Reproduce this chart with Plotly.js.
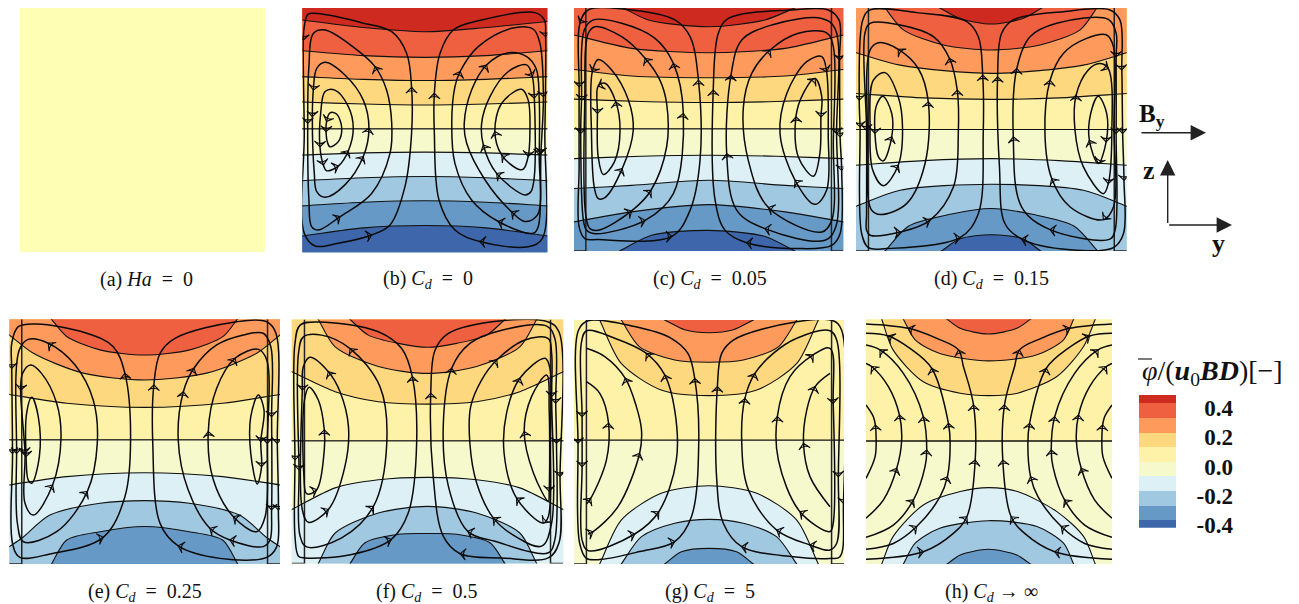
<!DOCTYPE html>
<html><head><meta charset="utf-8">
<script src="https://cdn.plot.ly/plotly-3.0.1.min.js"></script>
<style>html,body{margin:0;padding:0;background:#fff}#c{width:1299px;height:604px}</style>
</head><body><div id="c"></div>
<script>
// Potential bands, top (high) to bottom (low)
const bandColors = ['#cf2a20','#ee6040','#fd9a5c','#fed87f','#fef2a8','#f5f9cc','#dcf0f6','#a0c8e0','#6699c6','#3e66aa'];
const uniformColor = '#feffb5';
const legendEdges = [-0.417,-0.364,-0.267,-0.166,-0.064,0.034,0.133,0.232,0.335,0.433,0.49];
const legendTicks = [0.4,0.2,0,-0.2,-0.4];
const legendTickText = ['0.4','0.2','0.0','-0.2','-0.4'];
const E='&nbsp;=&nbsp;';
const captions = ['(a)&nbsp;<i>Ha</i>&nbsp;'+E+'&nbsp;0','(b)&nbsp;<i>C</i><sub><i>d</i></sub>&nbsp;'+E+'&nbsp;0','(c)&nbsp;<i>C</i><sub><i>d</i></sub>&nbsp;'+E+'&nbsp;0.05','(d)&nbsp;<i>C</i><sub><i>d</i></sub>&nbsp;'+E+'&nbsp;0.15','(e)&nbsp;<i>C</i><sub><i>d</i></sub>&nbsp;'+E+'&nbsp;0.25','(f)&nbsp;<i>C</i><sub><i>d</i></sub>&nbsp;'+E+'&nbsp;0.5','(g)&nbsp;<i>C</i><sub><i>d</i></sub>&nbsp;'+E+'&nbsp;5','(h)&nbsp;<i>C</i><sub><i>d</i></sub>&nbsp;→&nbsp;∞'];
const uniformField = [[0,0],[0,0]];

// Iso-potential lines, [y %, z % from top], keyed by level (1 top .. 9 bottom)
const levelsB = {
1:[[0,4.9],[25,8],[50,9.7],[75,8],[100,5.5]],
2:[[0,17.5],[25,19.5],[50,20.2],[75,19.5],[100,17.5]],
3:[[0,28.1],[25,29.2],[50,29.7],[75,29.2],[100,28.1]],
4:[[0,38.5],[25,39.3],[50,39.7],[75,39.3],[100,38.5]],
5:[[0,49.4],[50,49.4],[100,49.4]],
6:[[0,60.2],[25,59.3],[50,59],[75,59.3],[100,60.2]],
7:[[0,70.7],[25,69.5],[50,69],[75,69.5],[100,70.7]],
8:[[0,81],[25,79.5],[50,78.9],[75,79.5],[100,81]],
9:[[0,93.3],[25,90],[50,89],[75,90],[100,93.3]]};
const levelsC = {
1:[[18.3,0],[27.6,4.9],[50,7.7],[70.9,4.9],[82,0]],
2:[[0,11.1],[21.4,16.6],[50,18.4],[78.4,16.6],[100,11.1]],
3:[[0,25.3],[21.4,28],[50,28.7],[78.4,28],[100,25.3]],
4:[[0,37.5],[25,38.5],[50,38.9],[75,38.5],[100,37.5]],
5:[[0,49.7],[50,49.7],[100,49.7]],
6:[[0,62],[25,61],[50,60.6],[75,61],[100,62]],
7:[[0,74.3],[21.4,73],[50,70.9],[78.4,73],[100,74.3]],
8:[[0,88],[21.4,83.9],[50,80.9],[78.4,83.9],[100,88]],
9:[[17,100],[28.8,93.5],[50,91.5],[70.9,94],[82,100]]};
const levelsD = {
1:[[31,0],[38.4,4.3],[50,6.6],[61.6,4.3],[68.6,0]],
2:[[10.7,0],[17.5,9],[32.3,15.2],[50,17.3],[68,15.2],[82.8,9],[89,0]],
3:[[0,18.4],[16.3,23.5],[50,26.9],[84,23.5],[100,18.4]],
4:[[0,35.2],[25,37],[50,37.6],[75,37],[100,35.2]],
5:[[0,50],[50,50],[100,50]],
6:[[0,64.7],[25,62.8],[50,62],[75,62.8],[100,64.7]],
7:[[0,81.6],[16.3,75],[50,72.5],[84,75],[100,81.6]],
8:[[10.7,100],[19.5,89.7],[34.8,84.9],[50,82.5],[65.2,84.9],[80.5,89.7],[89.3,100]],
9:[[31.6,100],[38.4,95],[50,93.3],[61.6,95],[68.2,100]]};
const levelsE = {
2:[[15.6,0],[21.2,7],[33.5,12.5],[50,14.6],[66.7,12.5],[79,7],[84.2,0]],
3:[[0,6.4],[8.9,13.9],[27.3,22],[50,24.8],[72.9,22],[91.4,13.9],[100,6.4]],
4:[[0,30.7],[21.2,34.3],[50,36],[78.8,34.3],[100,30.7]],
5:[[0,49.2],[50,49.2],[100,49.2]],
6:[[0,67.7],[21.2,64.3],[50,62.7],[78.8,64.3],[100,67.7]],
7:[[0,92.9],[4.6,89.5],[15,80],[33.5,75.2],[50,74.1],[66.5,75.2],[85,80],[95.4,89.5],[100,92.9]],
8:[[15.6,100],[21.2,90.2],[33.5,86.8],[50,84.7],[66.5,86.8],[78.8,90.2],[84.4,100]]};
const levelsF = {
2:[[21.5,0],[28.2,6.4],[39.3,9.8],[50,11.4],[60.7,9.8],[71.8,6.4],[78.5,0]],
3:[[9.8,0],[16,11.2],[31.9,19.3],[50,22.1],[68.1,19.3],[84,11.2],[90.2,0]],
4:[[0,21.4],[16,29.6],[31.9,33.7],[50,34.7],[68.1,33.7],[84,29.6],[100,21.4]],
5:[[0,49.7],[50,49.7],[100,49.7]],
6:[[0,77.9],[16,69],[31.9,65.7],[50,64.7],[68.1,65.7],[84,69],[100,77.9]],
7:[[9.8,100],[16,87.5],[31.9,79.3],[50,76.6],[68.1,79.3],[84,87.5],[90.2,100]],
8:[[21.5,100],[27,91.5],[39.3,88],[50,87.7],[60.7,88],[73,91.5],[78.5,100]]};
const levelsG = {
2:[[33.6,0],[41,4],[50,5.2],[59,4],[66.4,0]],
3:[[17.5,0],[24.3,11],[37.3,16.4],[50,17.3],[62.7,16.4],[75.7,11],[82.5,0]],
4:[[9.5,0],[17.5,17.8],[32.3,28.7],[50,31],[67.7,28.7],[82.5,17.8],[90.5,0]],
5:[[0,49.2],[50,49.2],[100,49.2]],
6:[[9.5,100],[17.5,82],[32.3,71],[50,67.9],[67.7,71],[82.5,82],[90.5,100]],
7:[[17.5,100],[25,88.8],[37.3,83.3],[50,81.7],[62.7,83.3],[75,88.8],[82.5,100]],
8:[[33.6,100],[39.8,95],[50,93.6],[60.2,95],[66.4,100]]};
const levelsH = {
2:[[33,0],[38.3,3.7],[49.8,6],[61.3,3.7],[66.8,0]],
3:[[15.2,0],[20,8.4],[30,14],[49.8,17],[69.5,14.5],[80.3,8.4],[84.4,0]],
4:[[6.4,0],[11,12.5],[23.3,25.5],[38.3,30.2],[49.8,31.2],[61.6,30.2],[77.6,23.4],[88.5,11],[93.2,0]],
5:[[0,49.7],[50,49.7],[100,49.7]],
6:[[6.4,100],[11,88.8],[23.3,75.9],[38.3,70.4],[49.8,68.8],[61.6,70.4],[77.6,78.6],[88.5,88.8],[93.2,100]],
7:[[15.2,100],[20,91.5],[30,85.4],[49.8,82.3],[69.5,84.7],[80.3,91.5],[84.4,100]],
8:[[33,100],[38.3,96.3],[49.8,94],[61.3,96.3],[66.8,100]]};

// Streamlines, [y %, z % from top, arrow flag], in flow order
const streamsB = [
[[28.3,92.9],[35.8,88.8],[41.9,73.1],[44.6,51.3],[44.6,32.5,1],[42.6,18.6],[36.5,9.7],[24.2,6],[7.9,2.5],[2.4,2.5],[0.8,7.6],[0.4,13.1,1],[0.8,51.3],[0.8,92.2],[5.2,97.4],[14.7,96.3],[28.3,92.9,1]],
[[6.5,90.9],[15.4,85.4,1],[28.3,75.9],[35.8,59.5],[36.5,47.2],[34.4,33.6],[29.7,24,1],[21.5,16.5],[9.3,9],[4.5,10.4],[2.7,24],[2.2,47.2,1],[2.7,78.6],[3.8,89.5],[6.5,90.9]],
[[9.3,77.5],[17.4,72.4],[24.9,60.8,1],[27.2,49.2,1],[24.9,37.7],[17.4,27.4],[9.3,22.2],[5.9,24.7],[4.5,33.6,1],[4.1,44.5,1],[4.9,67.7],[5.9,75.2],[9.3,77.5]],
[[9.9,66.6],[14.7,64.7,1],[18.8,58.4,1],[20.8,49.2],[18.8,40.4],[13.3,33.6],[9.3,34.2],[7.5,43.1],[7.2,56.8,1],[8.6,64.3,1],[9.9,66.6]],
[[11.3,56.8],[14.7,54.7],[16.1,49.2],[14,43.4],[11.3,42.9],[9.9,46.5,1],[9.7,50.6,1],[10.2,54.7],[11.3,56.8]],
[[72.5,95.6],[62.3,90.9],[55.8,78.6],[53.9,51.3],[53.9,34.9,1],[56.2,18.6],[61.6,9],[73.2,4.9],[95,1.9],[98.8,4.9],[99.3,11.7,1],[99,51.3],[98,94.3],[92.2,97.7],[72.5,95.6,1]],
[[94.3,92.2],[80,87.4,1],[69.1,78.6],[62.3,63.6],[61,47.2],[62.3,32.2],[64.4,26,1],[71.8,15.8],[85.4,8.3],[94.3,8.7],[97,14.5],[98.4,36.3,1],[97.4,59.5,1],[96.3,89.5],[94.3,92.2]],
[[90.9,87.4],[85.4,83.4,1],[74.6,70.4],[67.1,55.4],[66.1,47.2],[69.1,33.6],[75.2,23.3,1],[84.1,18.3],[91.6,19.9],[95.5,25],[96.7,37],[96.7,60,1],[96,84.7],[90.9,87.4]],
[[90.9,76.5],[79.3,67.7,1],[73.9,56.1,1],[73.2,47.2],[76.6,36.3],[84.1,26],[91.6,23.3],[93.9,28.1,1],[94.7,36.9,1],[94.7,69],[93.3,75.2],[90.9,76.5]],
[[88.2,66],[81.4,60.2,1],[78.6,50.6,1],[81.4,39],[89.5,33.3],[92.2,37.7],[92.9,51.3],[92.2,60.8,1],[90.2,66],[88.2,66]]];
const streamsC = [
[[9,95.3],[36.3,94,1],[43.1,83.2],[46.8,62.6],[46.2,29.7,1],[43.1,11.8],[37.5,4.9],[18.9,0.5],[5.3,0.8],[2.2,6.3,1],[1.9,32.4,1],[1.9,65.4],[1.9,90.1],[4,94.9],[9,95.3]],
[[7.8,92.9],[26.4,87.4,1],[36.9,76.4],[40.6,43.4,1],[36.9,22.8,1],[30.1,12.5],[17.7,6.3],[7.2,4.9],[3.8,9.1],[2.8,37.9,1],[2.5,51.6,1],[3.5,87.4],[4.7,91.5],[7.8,92.9]],
[[9,91.5],[21.4,83.5,1],[28.6,75,1],[34.4,57.1],[34.4,39.3],[31.9,29.7],[26.4,20.7,1],[17.7,11.8],[7.8,7.7],[5.3,10.4],[4,37.9],[4.3,84.6],[5.9,90.8],[9,91.5]],
[[11.5,78],[17.9,66.1,1],[22,50.3],[20.2,37.9],[14,25.5],[9,21.2],[6.8,26.2,1],[6.5,51.6],[7.5,73.6],[9,78.4],[11.5,78]],
[[10.9,68.5],[15,63.3],[17.1,50.3],[15.5,38.6,1],[11.5,31],[9,32.1,1],[8.7,43.4,1],[9,61.3],[10.9,68.5]],
[[64.1,96.6],[56.1,91.5],[52.4,79.1],[51.7,33.8,1],[53.6,10.4],[57.3,4.3],[80.8,0.8],[94.4,0.8],[98.4,4.9],[98.6,21.4,1],[98.8,53,1],[99.4,66.8,1],[98.8,92.9],[95.7,97.7],[83.3,99],[64.1,96.6,1]],
[[93.2,95.6],[70.9,90.8,1],[60.4,83.2],[56.7,59.9,1],[58.3,27.6,1],[62.3,13.2],[73.4,7],[92,4.3],[96.9,8.4],[97.5,51.6,1],[97.2,90.1],[93.2,95.6]],
[[92,92.2],[72.2,82.1,1],[64.7,62.6],[62.9,40.7],[66,26.9],[72.8,17.3,1],[83.3,10.4],[93.8,10.2],[96.3,15.9],[96.3,54.9],[95.7,87.4],[92,92.2]],
[[89.5,80.8],[82.1,70.9,1],[76.5,51.6],[79,35.2],[86.4,22.1],[92,20],[93.8,26.2,1],[94.4,51.6],[93.8,75],[89.5,80.8]],
[[88.9,69.2],[83.3,61.3],[82.4,44.8,1],[85.1,35.2],[89.5,29,1],[92,36.5],[91.7,44.8,1],[91.3,59.9],[88.9,69.2]]];
const streamsD = [
[[11.3,99],[38.4,94.5,1],[45.2,84.6],[47,51.6],[46.8,27.6,1],[45.2,11.8],[40.9,5.6],[22.4,1.9],[5.2,0.8],[2.5,4.9],[1.2,37.9,1],[1.5,48.9,1],[2.1,92.9],[4.6,98.6],[11.3,99]],
[[5.2,93.5],[16.3,92.2,1],[27.3,87.4,1],[36,73.6],[37.8,51.6],[37.4,33.8,1],[34.5,20.7,1],[28.6,11.8],[16.3,7],[5.2,6.3],[3.3,10.4],[3.9,50.3,1],[3.9,84.6],[3.9,91.5],[5.2,93.5]],
[[8.9,85],[18.7,80.5],[25.5,64],[26.7,38.6,1],[23,24.9],[15.6,17,1],[8.3,14.3],[5.2,17.3],[4.2,51.6],[4.6,79.1],[5.8,83.2],[8.9,85]],
[[10.1,73.1],[15.6,64.7,1],[17.2,49.6],[15.6,36.5],[10.7,26.6],[6.4,29.7],[5.2,48.9],[6.2,66.8],[10.1,73.1]],
[[10.1,62.9],[13.2,53,1],[13.2,43.4],[9.9,36.3],[7.4,40.7],[7,51.6,1],[8.3,61.3],[10.1,62.9]],
[[61.2,95.1],[55,88.7],[53,65.4],[52.3,28.3,1],[53.8,10.4],[58.1,4.9],[76.6,1.5],[93.8,0.8],[97.5,4.9],[98.2,25.5,1],[98.5,51.6,1],[99,70.9,1],[98.8,92.9],[95.1,98.6],[79.1,99.5],[61.2,95.1,1]],
[[93.8,95.1],[71.7,91.2,1],[61.2,81.9],[58.1,53,1],[59.4,24.9,1],[64.3,11.8],[74.1,6.3],[93.2,4.7],[96.1,10.4],[96.1,20.1,1],[96.1,51.6,1],[95.7,91.5],[93.8,95.1]],
[[91.4,87.1],[79.1,81.9],[72.3,70.2,1],[69.8,51.6],[71.7,29.7,1],[76.6,18.7],[85.2,12.5],[92.6,11.1],[95.1,15.9],[95.3,48.9],[95.1,81.9],[91.4,87.1,1]],
[[91.4,76.4],[84,65.4],[80.9,50.3],[81.3,35.9,1],[85.8,25.5],[89.9,22.8],[93.2,24.9,1],[94.5,51.6],[93.2,72.3,1],[91.4,76.4]],
[[89.5,64],[86.2,54.4,1],[86.7,43.4],[89.5,36.3],[92.6,43.4],[92.4,55.1,1],[89.5,64,1]]];
const streamsE = [
[[15,95.9],[34.7,89.1,1],[42.7,72.5],[44.8,49.3],[42.7,22.1,1],[38.4,11.2],[28.6,5.7],[10.1,1.9],[3.3,3],[0.9,9.8],[0.9,20,1],[1.2,54.8,1],[1.2,91.6],[3.9,97.3],[15,95.9]],
[[5.2,90.9],[17.5,86.8],[28.8,70.4,1],[32.5,50.7],[31,33],[24.3,18.7],[14.4,9.8,1],[7,8.2],[3.7,12.5],[2.7,54.8,1],[3,83.4],[5.2,90.9]],
[[8.9,80],[16,67.7,1],[19.1,48.6],[17.5,34.3],[11.9,22.1],[7.9,18.7],[4.9,22.1],[4.2,28.9,1],[5.8,54.8,1],[5.8,75.2],[8.9,80]],
[[8.3,67],[11.1,56.1],[10.7,39.8],[8.3,31.9],[6.4,38.4],[6.2,56.1,1],[7,65.7],[8.3,67]],
[[62.4,92.6],[55.7,83.4],[53,50.7],[53.4,26.8,1],[55.7,13.9],[61.2,7.8],[84,1],[95.1,1],[98.5,5.7],[99,50.7,1],[99.4,77.9,1],[98.8,92.9],[95.1,97.3],[77.8,97.7],[62.4,92.6,1]],
[[93.8,92.9],[81.5,90.2,1],[74.1,85.4,1],[66.1,69.8],[62.4,49.3],[64.3,29.6,1],[68.2,20,1],[76.6,10.5],[86.5,6.4],[93.8,5.7],[96.6,11.2],[96.9,39.8,1],[96.9,77.9,1],[96.3,90.2],[93.8,92.9]],
[[91.4,86.8],[82.8,80.7,1],[75.4,65.7],[73.5,45.9,1],[76.6,28.2],[83.4,15.9,1],[92,12.3],[95.1,16.6],[95.3,50.7,1],[94.5,80.7],[91.4,86.8]],
[[91.6,67.3],[89.2,54.8],[89.2,39.8],[92,30.9],[94.1,37.1],[92.9,50,1],[93.2,60.2,1],[91.6,67.3]]];
const streamsF = [
[[4.9,97.7],[22.1,96.3],[36.6,90.2,1],[42.9,79.3],[46,50.7],[44.4,23.4,1],[40.5,11.9],[31.9,5],[9.8,1],[3.1,2.3],[1.2,9.8],[1.2,57.5,1],[1.2,88.8],[2.5,97],[4.9,97.7]],
[[5.5,93.2],[18.4,89.5],[30.1,76.6,1],[35,50.7],[32.5,27.5],[21.5,11.9,1],[11,6.4],[4.3,7.1],[2.5,13.9],[2.7,61.6,1],[3.1,88.8],[5.5,93.2]],
[[6.1,83.1],[13.5,77.9,1],[19.6,60.2],[20.9,43.9],[17.8,29.6],[13.5,21.4,1],[6.7,15.5],[4.3,19.3],[3.9,28.9,1],[3.9,77.9],[6.1,83.1]],
[[5.5,71.4],[9.2,69.8,1],[12,53.4],[12,45.2,1],[9.8,33],[6.4,27.8],[4.7,33],[4.5,64.3],[5.5,71.4]],
[[62,96],[55.8,88.8],[52.1,64.3],[51.2,30.2,1],[52.8,12.5],[57.7,5.7],[77.3,0.5],[94.5,1],[98.4,5],[98.8,64.3,1],[98.4,91.6],[94.5,97.7],[77.3,97.7],[62,96,1]],
[[94.5,95.6],[74.8,90.9],[64.8,86.8,1],[57.7,68.4],[55.8,43.9],[58.9,20,1],[65.6,9.8],[77.3,4.4],[93.9,2.7],[96.9,7.8],[97.2,34.3,1],[97.5,50.7,1],[96.9,90.2],[94.5,95.6]],
[[92,92.9],[82.2,88.8],[74.2,81.3,1],[68.1,67],[65.6,50.7],[65.9,35.7],[69.9,24.8],[75.5,16.6,1],[85.9,8.4],[94.5,7.8],[95.7,13.9],[95.7,31.6,1],[95.7,83.4],[92,92.9]],
[[92.6,83.4],[82.8,73.2,1],[78.2,54.8],[79.1,38.4],[84,24.1,1],[93.3,15.9],[95.1,20],[95.2,50.7],[94.5,80.7],[92.6,83.4,1]],
[[94.5,74.5],[89,62.9],[85.6,45.9,1],[88.3,31.6],[93.9,22.8],[94.8,37.1],[94.8,70.4,1],[94.5,74.5]]];
const streamsG = [
[[10.1,98.1],[24.3,94.9],[37.3,90.8,1],[43.5,80.6],[46.2,50.5],[44.7,23.9,1],[42.2,13.7],[36,7.5],[22.5,2.7],[5.2,0.3],[1.7,4.1],[1.5,50.5,1],[2.1,91.5],[4.6,97.7],[10.1,98.1]],
[[5.2,94.5],[22.5,87.7,1],[31.4,78.6,1],[37.9,57.4],[37.3,36.9],[33.6,22.5,1],[26.8,13.7,1],[15.1,7.5],[4.6,4.4],[2.7,9.6],[3,39.6,1],[3,60.1,1],[3,90.2],[5.2,94.5]],
[[5.2,87.7],[7,86.8,1],[16.3,76.5],[24.3,54.6,1],[25,45.1],[23.1,35.5],[19,23.9,1],[11.4,15],[4.6,11.6]],
[[4.6,75.4],[6.2,73.1,1],[12,57.4],[12.8,42.3,1],[9.5,30],[4.6,25.3]],
[[62.1,92.9],[55.3,83.3],[52.8,64.2],[53.1,27.3,1],[54.7,13.7],[59,8.2],[82.5,0.7],[96,0.3],[99.1,4.1],[99.8,75.1,1],[98.5,97],[94.8,97.7],[81.2,97],[62.1,92.9,1]],
[[87.4,92.2],[75.1,86.1,1],[64.6,69.7],[62.1,49.2],[63.3,32.1,1],[67,21.9,1],[73.8,13.7],[82.5,7.5],[94.8,4.4],[97.3,8.2],[97.9,64.2,1],[97.3,91.5],[94.8,94.3],[87.4,92.2,1]],
[[94.8,86.7],[83.7,78.6,1],[75.7,57.4],[75.3,39.6,1],[80,23.2],[88.6,14.3,1],[94.8,11.6],[96,34.2,1],[96,83.3],[94.8,86.7]],
[[94.8,76.5],[87.4,64.2],[85,50.5,1],[86.2,36.9],[89.3,27.3,1],[94.8,21.9]]];
const streamsH = [
[[0,65],[3.7,56.1],[4.1,48],[3.8,43.2,1],[3,39.8],[0,35]],
[[0,81.3],[7.1,73.8],[12.5,60.9,1],[14.5,49.3],[13.6,39.1,1],[9.1,27.5],[2.3,19.3,1],[0,18]],
[[0,89.1],[11.1,84.1],[19.3,73.8,1],[24,60.2],[24.7,53.4,1],[23.3,39.8,1],[15.2,22.1],[5.7,12.5,1],[0,10.5]],
[[0,94],[11.1,91.6],[20.6,84.7,1],[30.1,72.5],[33.1,64.3,1],[34.2,50.7],[33.5,42.5,1],[26.7,20,1],[17.9,11.9],[9.1,6.8,1],[0,5.7]],
[[0,98.1],[23.3,95,1],[35.5,87.5],[41,80.7,1],[44.4,57.5,1],[43.7,35,1],[39.6,19.3],[37.6,12.5,1],[28.8,7.8],[17.2,3.7,1],[0,1.9]],
[[100,98.1],[76.7,95,1],[64.5,87.5],[59,80.7,1],[55.6,57.5,1],[56.3,35,1],[60.4,19.3],[62.4,12.5,1],[71.2,7.8],[82.8,3.7,1],[100,1.9]],
[[100,94],[88.9,91.6],[79.4,84.7,1],[69.9,72.5],[66.9,64.3,1],[65.8,50.7],[66.5,42.5,1],[73.3,20,1],[82.1,11.9],[90.9,6.8,1],[100,5.7]],
[[100,89.1],[88.9,84.1],[80.7,73.8,1],[76,60.2],[75.3,53.4,1],[76.7,39.8,1],[84.8,22.1],[94.3,12.5,1],[100,10.5]],
[[100,81.3],[92.9,73.8],[87.5,60.9,1],[85.5,49.3],[86.4,39.1,1],[90.9,27.5],[97.7,19.3,1],[100,18]],
[[100,65],[96.3,56.1],[95.9,48],[96.2,43.2,1],[97,39.8],[100,35]]];

// Layout of the figure in reference pixels
const W=1299,H=604;
const frames=[[20,265,8,252],[302.3,547.3,8,252.3],[574,843.3,8,251],[856,1126.7,8,251],[9.3,280,319.3,564],[291.7,563.3,319.5,563.5],[574,844,320,564],[866,1112,319.3,564]];
const capPos=[[146,279],[428,279],[710,279],[991,279],[145,592],[427,592],[710,592],[991,592]];
const panelLevels=[null,levelsB,levelsC,levelsD,levelsE,levelsF,levelsG,levelsH];
const panelStreams=[null,streamsB,streamsC,streamsD,streamsE,streamsF,streamsG,streamsH];
const wallWidth=[0,0,4.4,4.6,4.6,4.7,4.6,0];
const SERIF='"Liberation Serif","DejaVu Serif",serif';
const px=x=>x/W, py=y=>1-y/H;
const traces=[];
const layout={width:W,height:H,margin:{l:0,r:0,t:0,b:0},paper_bgcolor:'#fff',plot_bgcolor:'rgba(0,0,0,0)',showlegend:false,hovermode:false,font:{family:SERIF,color:'#111'},annotations:[],shapes:[]};

function polygon(k,pts,up){
  const outer=up?-30:130;
  const a=pts[0],b=pts[1],n=pts.length,c=pts[n-1],d=pts[n-2];
  const s=[[2*a[0]-b[0],2*a[1]-b[1]],...pts,[2*c[0]-d[0],2*c[1]-d[1]]];
  const all=[[-30,outer],...s,[130,outer],[-30,outer]];
  return {all,band:up?k-1:k};
}
frames.forEach((f,i)=>{
  const id=i===0?'':String(i+1);
  const xa='x'+id,ya='y'+id;
  const base={showgrid:false,zeroline:false,showticklabels:false,ticks:'',showline:false,fixedrange:true};
  layout['xaxis'+id]={...base,domain:[px(f[0]),px(f[1])],range:[0,100],anchor:ya};
  layout['yaxis'+id]={...base,domain:[py(f[3]),py(f[2])],range:[100,0],anchor:xa};
  layout.annotations.push({xref:'paper',yref:'paper',x:px(capPos[i][0]),y:py(capPos[i][1]),text:captions[i],showarrow:false,xanchor:'center',yanchor:'middle',font:{size:20,family:SERIF,color:'#111'}});
  if(i===0){
    traces.push({type:'heatmap',x:[0,100],y:[0,100],z:uniformField,xaxis:xa,yaxis:ya,showscale:false,hoverinfo:'skip',zmin:-1,zmax:1,colorscale:[[0,uniformColor],[1,uniformColor]]});
    return;
  }
  const L=panelLevels[i];
  const order=[[5,false],[5,true],[4,true],[3,true],[2,true],[1,true],[6,false],[7,false],[8,false],[9,false]];
  order.forEach(([k,up])=>{
    if(!L[k])return;
    const p=polygon(k,L[k],up);
    traces.push({type:'scatter',mode:'lines',x:p.all.map(q=>q[0]),y:p.all.map(q=>q[1]),xaxis:xa,yaxis:ya,fill:'toself',fillcolor:bandColors[p.band],line:{color:'#111',width:1.1,shape:'spline',smoothing:0.8},hoverinfo:'skip'});
  });
  const w=wallWidth[i];
  if(w>0){
    traces.push({type:'scatter',mode:'lines',x:[0,w,w,null,100,100-w,100-w],y:[100,100,0,null,100,100,0],xaxis:xa,yaxis:ya,line:{color:'#222',width:1.5},cliponaxis:false,hoverinfo:'skip'});
  }
  panelStreams[i].forEach(s=>{
    traces.push({type:'scatter',mode:'lines+markers',x:s.map(q=>q[0]),y:s.map(q=>q[1]),xaxis:xa,yaxis:ya,hoverinfo:'skip',
      line:{color:'#0a0a0a',width:1.5,shape:'spline',smoothing:1},
      marker:{symbol:'arrow-wide-open',angleref:'previous',size:s.map(q=>q[2]?8:0),opacity:s.map(q=>q[2]?1:0),color:'#0a0a0a',line:{color:'#0a0a0a',width:1.1}}});
  });
});

// colour key
const csEntries=[];
bandColors.slice().reverse().forEach((c,i)=>{csEntries.push([i/10,c],[(i+1)/10,c]);});
traces.push({type:'heatmap',xaxis:'x9',yaxis:'y9',x:[0,1],y:legendEdges,z:bandColors.map((c,i)=>[i+0.5]),zmin:0,zmax:10,colorscale:csEntries,showscale:false,hoverinfo:'skip'});
layout.xaxis9={domain:[px(1139),px(1176)],range:[0,1],anchor:'y9',showgrid:false,zeroline:false,showticklabels:false,ticks:'',fixedrange:true};
layout.yaxis9={domain:[py(527.7),py(395)],range:[-0.417,0.49],anchor:'free',position:px(1233),side:'left',showgrid:false,zeroline:false,showline:false,ticks:'',tickmode:'array',tickvals:legendTicks,ticktext:legendTickText,tickfont:{family:SERIF,size:23,weight:700,color:'#111'},fixedrange:true};

function label(x,y,text,size){layout.annotations.push({xref:'paper',yref:'paper',x:px(x),y:py(y),text,showarrow:false,xanchor:'center',yanchor:'middle',font:{size,family:SERIF,color:'#111'}});}
function arrow(x0,y0,x1,y1){layout.annotations.push({xref:'paper',yref:'paper',axref:'pixel',ayref:'pixel',x:px(x1),y:py(y1),ax:x0-x1,ay:y0-y1,text:' ',font:{size:1},showarrow:true,arrowhead:2,arrowsize:2.2,arrowwidth:1.4,arrowcolor:'#222',standoff:0});}
label(1212,372,'<i>φ</i>/(<b><i>u</i></b><sub>0</sub><b><i>BD</i></b>)[−]',28);
layout.shapes.push({type:'line',xref:'paper',yref:'paper',x0:px(1138),x1:px(1152),y0:py(359),y1:py(359),line:{color:'#222',width:1.2}});
label(1152,116,'<b>B<sub>y</sub></b>',25);
label(1149,171,'<b>z</b>',26);
label(1218,243,'<b>y</b>',26);
arrow(1140,132.7,1206,132.7);
arrow(1167.7,225,1167.7,160);
arrow(1167.7,225,1232,225);

Plotly.newPlot('c',traces,layout,{staticPlot:true,displayModeBar:false}).then(gd=>{
  gd.querySelectorAll('text').forEach(t=>{const b=t.getBBox();if(!t.textContent.trim()||!b.width||!b.height)t.remove();});
});
</script></body></html>
